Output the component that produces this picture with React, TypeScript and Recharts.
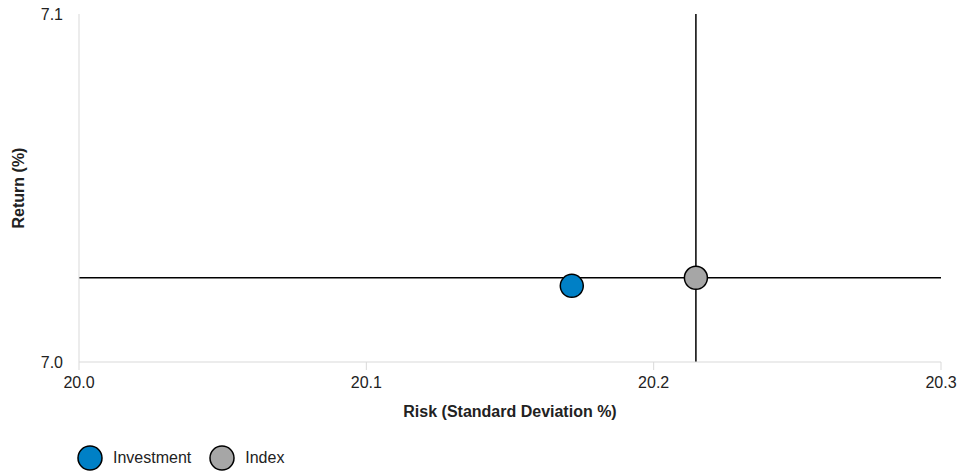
import { ScatterChart, Scatter, XAxis, YAxis, ReferenceLine, Legend } from "recharts";

const investment = [{ risk: 20.1715, ret: 7.0219 }];
const index = [{ risk: 20.2147, ret: 7.0242 }];
const xTicks = [20.0, 20.1, 20.2, 20.3];
const yTicks = [7.0, 7.1];

const font = "'Liberation Sans', Arial, sans-serif";

const legendItems = [
  { name: "Investment", color: "#0080c6" },
  { name: "Index", color: "#a6a6a6" },
];

const LegendContent = () => (
  <div style={{ display: "flex", alignItems: "center", height: 28, paddingLeft: 77, fontFamily: font, fontSize: 16, color: "#222" }}>
    {legendItems.map((it) => (
      <div key={it.name} style={{ display: "flex", alignItems: "center", marginRight: 18 }}>
        <svg width={26} height={26} style={{ marginRight: 10 }}>
          <circle cx={13} cy={13} r={12} fill={it.color} stroke="#000" strokeWidth={1.5} />
        </svg>
        <span>{it.name}</span>
      </div>
    ))}
  </div>
);

const App = () => (
  <div style={{ position: "absolute", left: 0, top: 0, width: 961, height: 474, background: "#fff" }}>
    <ScatterChart width={961} height={474} margin={{ top: 14, right: 20, bottom: 2, left: 0 }}>
      <XAxis
        type="number"
        dataKey="risk"
        domain={[20.0, 20.3]}
        ticks={xTicks}
        tickFormatter={(v: number) => v.toFixed(1)}
        height={82}
        axisLine={{ stroke: "#d9d9d9" }}
        tickLine={{ stroke: "#d9d9d9" }}
        tickSize={8}
        tickMargin={7}
        tick={{ fill: "#222", fontSize: 16, fontFamily: font }}
        allowDataOverflow
        label={{
          content: (props: any) => {
            const vb = props.viewBox;
            return (
              <text x={vb.x + vb.width / 2} y={vb.y + 55} textAnchor="middle" fontFamily={font} fontSize={16} fontWeight="bold" fill="#222">
                Risk (Standard Deviation %)
              </text>
            );
          },
        }}
      />
      <YAxis
        type="number"
        dataKey="ret"
        domain={[7.0, 7.1]}
        ticks={yTicks}
        tickFormatter={(v: number) => v.toFixed(1)}
        width={79}
        axisLine={{ stroke: "#d9d9d9" }}
        tickLine={false}
        tickMargin={10}
        tick={{ fill: "#222", fontSize: 16, fontFamily: font }}
        allowDataOverflow
        label={{
          content: (props: any) => {
            const vb = props.viewBox;
            const cy = vb.y + vb.height / 2;
            return (
              <text x={24} y={cy} transform={`rotate(-90 24 ${cy})`} textAnchor="middle" fontFamily={font} fontSize={16} fontWeight="bold" fill="#222">
                Return (%)
              </text>
            );
          },
        }}
      />
      <XAxis type="number" xAxisId="top" orientation="top" domain={[20.0, 20.3]} tick={false} tickLine={false} axisLine={{ stroke: "#d9d9d9" }} height={0} />
      <YAxis type="number" yAxisId="right" orientation="right" domain={[7.0, 7.1]} tick={false} tickLine={false} axisLine={{ stroke: "#d9d9d9" }} width={0} />
      <ReferenceLine x={index[0].risk} stroke="#000" strokeWidth={1.5} />
      <ReferenceLine y={index[0].ret} stroke="#000" strokeWidth={1.5} />
      <Scatter
        name="Investment"
        data={investment}
        fill="#0080c6"
        stroke="#000"
        strokeWidth={1.5}
        isAnimationActive={false}
        shape={(p: any) => <circle cx={p.cx} cy={p.cy} r={11.5} fill="#0080c6" stroke="#000" strokeWidth={1.5} />}
      />
      <Scatter
        name="Index"
        data={index}
        fill="#a6a6a6"
        stroke="#000"
        strokeWidth={1.5}
        isAnimationActive={false}
        shape={(p: any) => <circle cx={p.cx} cy={p.cy} r={11.5} fill="#a6a6a6" stroke="#000" strokeWidth={1.5} />}
      />
      <Legend verticalAlign="bottom" align="left" height={28} content={<LegendContent />} />
    </ScatterChart>
  </div>
);

export default App;
